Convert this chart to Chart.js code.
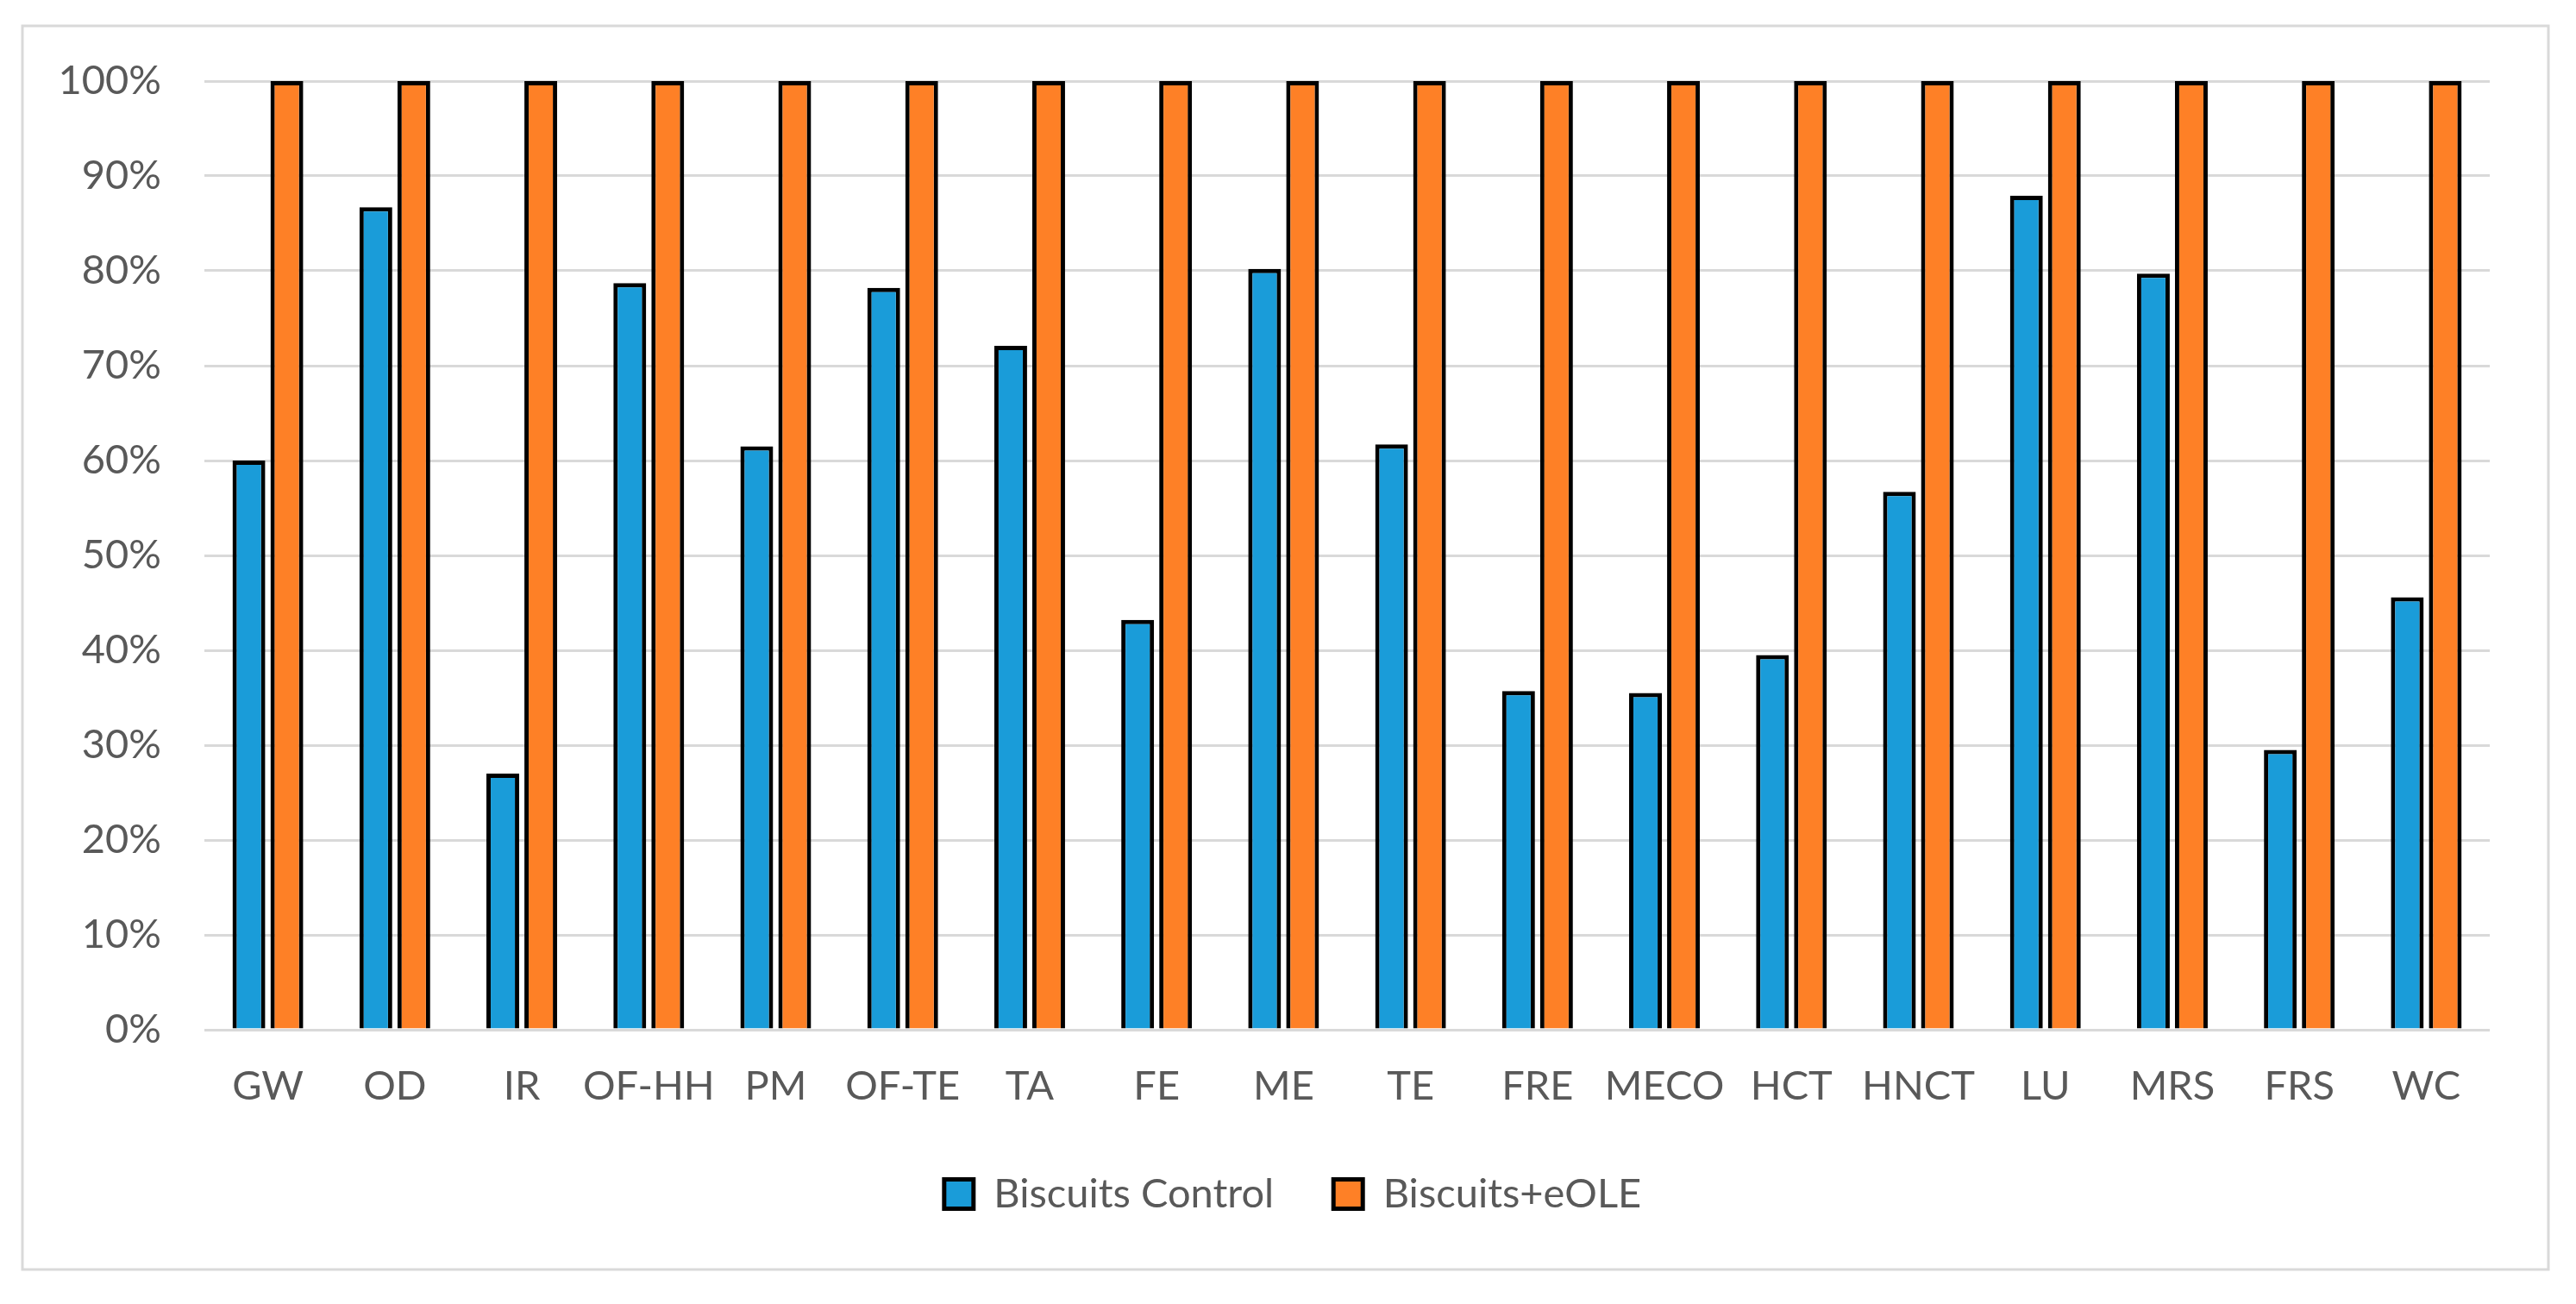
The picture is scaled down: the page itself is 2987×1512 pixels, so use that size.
<!DOCTYPE html>
<html><head><meta charset="utf-8">
<script src="https://cdn.jsdelivr.net/npm/chart.js@4.4.0/dist/chart.umd.min.js"></script>
<style>html,body{margin:0;padding:0;background:#fff;overflow:hidden}canvas{display:block}</style>
</head><body>
<canvas id="c" width="2987" height="1512"></canvas>
<script>
const categories = ["GW","OD","IR","OF-HH","PM","OF-TE","TA","FE","ME","TE","FRE","MECO","HCT","HNCT","LU","MRS","FRS","WC"];
const controlValues = [60.0,86.7,27.0,78.7,61.5,78.2,72.1,43.2,80.2,61.7,35.7,35.5,39.5,56.7,87.9,79.7,29.5,45.6];
const eoleValues = [100,100,100,100,100,100,100,100,100,100,100,100,100,100,100,100,100,100];
const seriesNames = ["Biscuits Control","Biscuits+eOLE"];
const yMin = 0, yMax = 100, yStep = 10;

const textColor = '#595959';
const fontFamily = 'Lato, "Open Sans", sans-serif';

const frame = {
  id: 'frame',
  beforeDraw(chart) {
    const ctx = chart.ctx;
    ctx.save();
    ctx.fillStyle = '#ffffff';
    ctx.fillRect(0, 0, chart.width, chart.height);
    ctx.strokeStyle = '#d9d9d9';
    ctx.lineWidth = 3;
    ctx.strokeRect(26, 30, 2929, 1442);
    ctx.restore();
  },
  afterLayout(chart) {
    // centre the legend the way the original does (slightly right of the canvas centre)
    if (chart.legend) { chart.legend.left = 111; }
  }
};

new Chart(document.getElementById('c'), {
  type: 'bar',
  data: {
    labels: categories,
    datasets: [
      { label: seriesNames[0], data: controlValues, backgroundColor: '#1a9cd9', borderColor: '#000000', borderWidth: 5 },
      { label: seriesNames[1], data: eoleValues, backgroundColor: '#fe8026', borderColor: '#000000', borderWidth: 5 }
    ]
  },
  options: {
    responsive: false,
    devicePixelRatio: 1,
    animation: false,
    categoryPercentage: 0.598,
    barPercentage: 0.864,
    layout: { padding: { top: 94, right: 100, bottom: 94, left: 0 } },
    plugins: {
      tooltip: { enabled: false },
      legend: {
        position: 'bottom',
        labels: {
          boxWidth: 34, boxHeight: 34, padding: 69,
          color: textColor,
          font: { family: fontFamily, size: 47 }
        }
      }
    },
    scales: {
      x: {
        grid: { display: false, drawTicks: false },
        border: { display: false },
        ticks: { color: textColor, font: { family: fontFamily, size: 47 }, padding: 38, maxRotation: 0, autoSkip: false },
        afterFit(s) { s.height = 98; }
      },
      y: {
        min: yMin, max: yMax,
        grid: { color: '#d9d9d9', lineWidth: 3, drawTicks: false },
        border: { display: false },
        ticks: { stepSize: yStep, color: textColor, font: { family: fontFamily, size: 47 }, padding: 50, callback: v => v + '%' },
        afterFit(s) { s.width = 237; }
      }
    }
  },
  plugins: [frame]
});
</script>
</body></html>
